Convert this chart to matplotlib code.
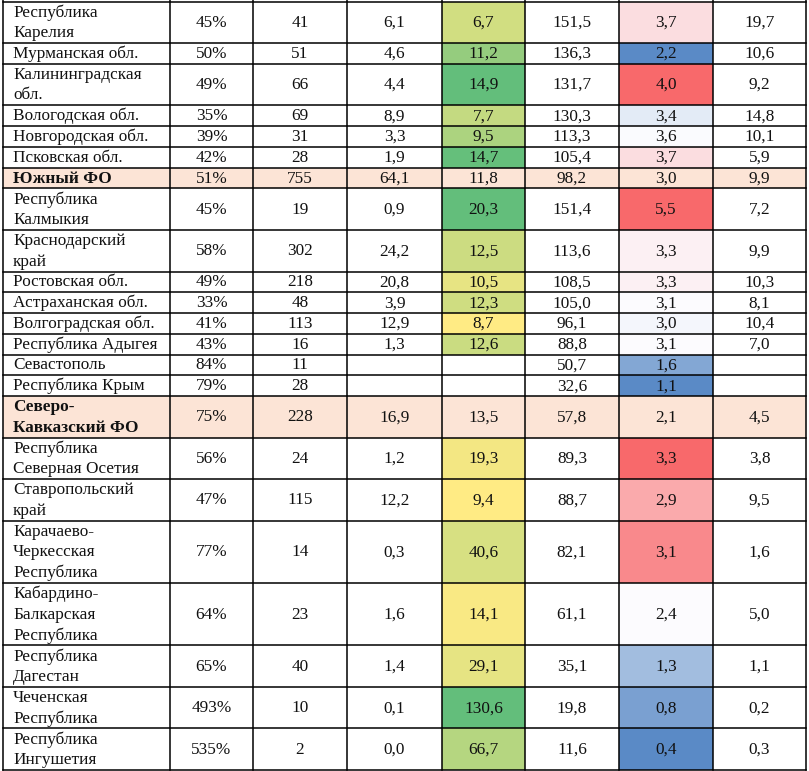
import matplotlib.pyplot as plt
from matplotlib.colors import LinearSegmentedColormap, to_hex

# Table rows (names use "\n" where the cell wraps)
names = ["Республика\nКарелия", "Мурманская обл.", "Калининградская\nобл.",
         "Вологодская обл.", "Новгородская обл.", "Псковская обл.",
         "Южный ФО", "Республика\nКалмыкия", "Краснодарский\nкрай",
         "Ростовская обл.", "Астраханская обл.", "Волгоградская обл.",
         "Республика Адыгея", "Севастополь", "Республика Крым",
         "Северо-\nКавказский ФО", "Республика\nСеверная Осетия",
         "Ставропольский\nкрай", "Карачаево-\nЧеркесская\nРеспублика",
         "Кабардино-\nБалкарская\nРеспублика", "Республика\nДагестан",
         "Чеченская\nРеспублика", "Республика\nИнгушетия"]
share = [45, 50, 49, 35, 39, 42, 51, 45, 58, 49, 33, 41, 43, 84, 79,
         75, 56, 47, 77, 64, 65, 493, 535]
col2 = [41, 51, 66, 69, 31, 28, 755, 19, 302, 218, 48, 113, 16, 11, 28,
        228, 24, 115, 14, 23, 40, 10, 2]
col3 = [6.1, 4.6, 4.4, 8.9, 3.3, 1.9, 64.1, 0.9, 24.2, 20.8, 3.9, 12.9, 1.3,
        None, None, 16.9, 1.2, 12.2, 0.3, 1.6, 1.4, 0.1, 0.0]
col4 = [6.7, 11.2, 14.9, 7.7, 9.5, 14.7, 11.8, 20.3, 12.5, 10.5, 12.3, 8.7,
        12.6, None, None, 13.5, 19.3, 9.4, 40.6, 14.1, 29.1, 130.6, 66.7]
col5 = [151.5, 136.3, 131.7, 130.3, 113.3, 105.4, 98.2, 151.4, 113.6, 108.5,
        105.0, 96.1, 88.8, 50.7, 32.6, 57.8, 89.3, 88.7, 82.1, 61.1, 35.1,
        19.8, 11.6]
col6 = [3.7, 2.2, 4.0, 3.4, 3.6, 3.7, 3.0, 5.5, 3.3, 3.3, 3.1, 3.0, 3.1, 1.6,
        1.1, 2.1, 3.3, 2.9, 3.1, 2.4, 1.3, 0.8, 0.4]
col7 = [19.7, 10.6, 9.2, 14.8, 10.1, 5.9, 9.9, 7.2, 9.9, 10.3, 8.1, 10.4, 7.0,
        None, None, 4.5, 3.8, 9.5, 1.6, 5.0, 1.1, 0.2, 0.3]
# -1 marks a federal district summary row, others are colour-scale groups
group = [0] * 6 + [-1] + [1] * 8 + [-1] + [2] * 7

# the first group is cut off at the top, so its scale limits are given here
fixed_scale4 = {0: (3.3, 14.9)}
fixed_scale6 = {0: (2.2, 3.62, 4.0)}

yg = LinearSegmentedColormap.from_list("yg", ["#FFEB84", "#63BE7B"])
bwr = LinearSegmentedColormap.from_list("bwr", ["#5A8AC6", "#FCFCFF", "#F8696B"])
PEACH = "#FCE4D6"


def fmt(v):
    if v is None:
        return ""
    return f"{v:.1f}".replace(".", ",")


def scale4(g):
    if g in fixed_scale4:
        return fixed_scale4[g]
    vals = [v for v, gg in zip(col4, group) if gg == g and v is not None]
    return min(vals), max(vals)


def scale6(g):
    if g in fixed_scale6:
        return fixed_scale6[g]
    vals = sorted(v for v, gg in zip(col6, group) if gg == g)
    n = len(vals)
    mid = vals[n // 2] if n % 2 else (vals[n // 2 - 1] + vals[n // 2]) / 2
    return vals[0], mid, vals[-1]


def clamp(t):
    return float(max(0.0, min(1.0, t)))


def color4(i):
    v = col4[i]
    if v is None:
        return "white"
    lo, hi = scale4(group[i])
    return to_hex(yg(clamp((v - lo) / (hi - lo))))


def color6(i):
    lo, mid, hi = scale6(group[i])
    v = col6[i]
    if v <= mid:
        t = 0.5 * (v - lo) / (mid - lo)
    else:
        t = 0.5 + 0.5 * (v - mid) / (hi - mid)
    return to_hex(bwr(clamp(t)))


W, H = 809, 771
fig = plt.figure(figsize=(W / 100, H / 100), dpi=100)
ax = fig.add_axes([0, 0, 1, 1])
ax.set_xlim(0, W)
ax.set_ylim(H, 0)
ax.axis("off")

col_edges = [3.5, 170, 253, 347, 442, 525, 619, 713, 806]
top = 1.5
line_h = 20.77
fs = 12.4
txt_color = "#111111"
font = "Liberation Serif"

y = top
row_edges = [y]
for i, name in enumerate(names):
    lines = name.split("\n")
    h = line_h * len(lines)
    yc = y + h / 2
    summary = group[i] == -1

    cells = [f"{share[i]}%", str(col2[i]), fmt(col3[i]), fmt(col4[i]),
             fmt(col5[i]), fmt(col6[i]), fmt(col7[i])]

    # backgrounds
    if summary:
        ax.add_patch(plt.Rectangle((col_edges[0], y), col_edges[-1] - col_edges[0], h,
                                   color=PEACH, lw=0, zorder=0))
    else:
        ax.add_patch(plt.Rectangle((col_edges[4], y), col_edges[5] - col_edges[4], h,
                                   color=color4(i), lw=0, zorder=0))
        ax.add_patch(plt.Rectangle((col_edges[6], y), col_edges[7] - col_edges[6], h,
                                   color=color6(i), lw=0, zorder=0))

    # name, one line at a time for exact spacing
    for k, ln in enumerate(lines):
        ly = yc + (k - (len(lines) - 1) / 2) * line_h
        ax.text(col_edges[0] + 9.5, ly + 0.5, ln, ha="left", va="center",
                fontsize=fs, family=font, color=txt_color,
                fontweight="bold" if summary else "normal")

    for j, s in enumerate(cells):
        xc = (col_edges[j + 1] + col_edges[j + 2]) / 2
        ax.text(xc, yc + 0.5, s, ha="center", va="center", fontsize=fs,
                family=font, color=txt_color)

    y += h
    row_edges.append(y)

# grid lines
for x in col_edges:
    ax.plot([x, x], [0, row_edges[-1]], color="black", lw=1.1, zorder=3)
for ry in row_edges:
    ax.plot([col_edges[0], col_edges[-1]], [ry, ry], color="black", lw=1.1, zorder=3)

fig.savefig("out.png", dpi=100)
